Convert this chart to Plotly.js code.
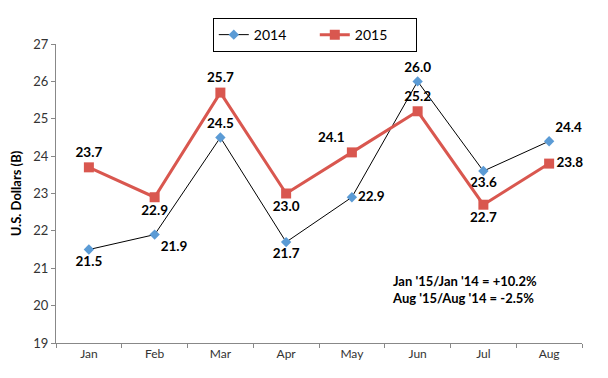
<!DOCTYPE html>
<html><head><meta charset="utf-8">
<script src="https://cdn.plot.ly/plotly-3.0.1.min.js"></script>
<style>body{margin:0;background:#fff}#c{width:608px;height:378px}</style>
</head><body><div id="c"></div>
<script>
const months = ['Jan','Feb','Mar','Apr','May','Jun','Jul','Aug'];
const v2014 = [21.5, 21.9, 24.5, 21.7, 22.9, 26.0, 23.6, 24.4];
const v2015 = [23.7, 22.9, 25.7, 23.0, 24.1, 25.2, 22.7, 23.8];
const pos2014 = ['bottom center','bottom right','top center','bottom center','middle right','top center','bottom center','top right'];
const pos2015 = ['top center','bottom center','top center','bottom center','top left','top center','bottom center','middle right'];
const noteLines = ["Jan '15/Jan '14 = +10.2%", "Aug '15/Aug '14 = -2.5%"];

const labelFont = {family:'Lato, "Open Sans", sans-serif', size:13.5, color:'#000', weight:'bold'};
const traces = [
  {x:months, y:v2014, name:'2014', type:'scatter', mode:'lines+markers+text',
   line:{color:'#000', width:1},
   marker:{symbol:'diamond', size:8, color:'#5b9bd5'},
   text:v2014.map(v=>'<b>'+v.toFixed(1)+'</b>'), textposition:pos2014, textfont:labelFont,
   cliponaxis:false},
  {x:months, y:v2015, name:'2015', type:'scatter', mode:'lines+markers+text',
   line:{color:'#d9574f', width:3},
   marker:{symbol:'square', size:10, color:'#d9574f'},
   text:v2015.map(v=>'<b>'+v.toFixed(1)+'</b>'), textposition:pos2015, textfont:labelFont,
   cliponaxis:false}
];
const layout = {
  width:608, height:378,
  margin:{l:56, r:26, t:44, b:35},
  paper_bgcolor:'#fff', plot_bgcolor:'#fff',
  font:{family:'Lato, "Open Sans", sans-serif', size:12, color:'#333'},
  showlegend:true,
  legend:{orientation:'h', x:0.492, xanchor:'center', y:1.03, yanchor:'middle',
          bordercolor:'#000', borderwidth:1, bgcolor:'#fff',
          font:{size:14, color:'#000'}, itemwidth:30, entrywidth:56},
  xaxis:{type:'category', range:[-0.5,7.5], showline:true, linecolor:'#888', linewidth:1,
         ticks:'outside', tickson:'boundaries', ticklen:4, tickcolor:'#888',
         showgrid:false, zeroline:false, tickfont:{size:12, color:'#333'}},
  yaxis:{range:[19,27], dtick:1, showline:true, linecolor:'#888', linewidth:1,
         ticks:'outside', ticklen:4, tickcolor:'#888', showgrid:false, zeroline:false,
         tickfont:{size:13, color:'#333'},
         title:{text:'<b>U.S. Dollars (B)</b>', font:{size:13, color:'#000'}, standoff:8}},
  annotations:[{xref:'paper', yref:'paper', x:0.635, y:0.18, xanchor:'left', yanchor:'middle',
    align:'left', showarrow:false, text:'<b>'+noteLines.join('<br>')+'</b>',
    font:{size:13, color:'#000'}}]
};
Plotly.newPlot('c', traces, layout, {displayModeBar:false});
</script></body></html>
